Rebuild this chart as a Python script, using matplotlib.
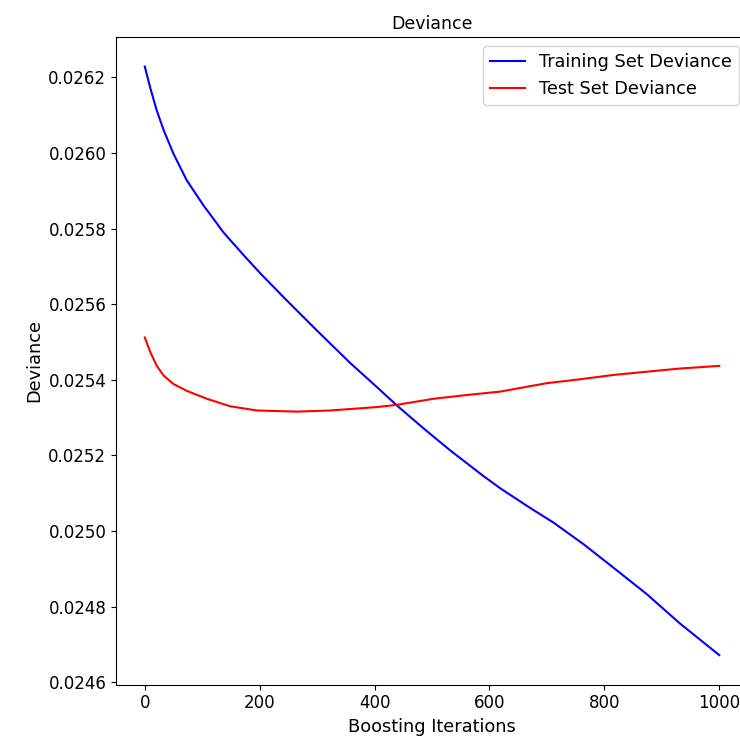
import numpy as np
import matplotlib.pyplot as plt

# values
train_iters = [0, 10, 21, 33, 50, 73, 102, 137, 172, 201, 242, 300, 358,
               404, 439, 485, 532, 590, 619, 671, 712, 764, 816, 874, 932, 1000]
train_deviance = [0.026229, 0.026170, 0.026112, 0.026060, 0.025998, 0.025928,
                  0.025862, 0.025790, 0.025730, 0.025682, 0.025618, 0.025530,
                  0.025444, 0.025381, 0.025332, 0.025272, 0.025213, 0.025145,
                  0.025113, 0.025061, 0.025022, 0.024965, 0.024903, 0.024833,
                  0.024755, 0.024672]

test_iters = [0, 10, 21, 33, 50, 73, 108, 149, 195, 265, 323, 404, 439,
              503, 561, 619, 699, 760, 816, 870, 932, 1000]
test_deviance = [0.025512, 0.025472, 0.025437, 0.025411, 0.025389, 0.025371,
                 0.025350, 0.025330, 0.025319, 0.025316, 0.025319, 0.025328,
                 0.025334, 0.025350, 0.025360, 0.025369, 0.025391, 0.025402,
                 0.025413, 0.025421, 0.025430, 0.025437]

plt.rcParams['font.size'] = 12

fig = plt.figure(figsize=(7.4, 7.43), dpi=100)
ax = fig.add_axes([0.1568, 0.0787, 0.854, 0.8715])

ax.plot(train_iters, train_deviance, 'b-', label='Training Set Deviance')
ax.plot(test_iters, test_deviance, 'r-', label='Test Set Deviance')
ax.set_title('Deviance', fontsize=12.5)
ax.set_xlabel('Boosting Iterations', fontsize=12.8)
ax.set_ylabel('Deviance', fontsize=12.8)
ax.legend(loc='upper right', fontsize=12.7)

fig.savefig('out.png', dpi=100)
